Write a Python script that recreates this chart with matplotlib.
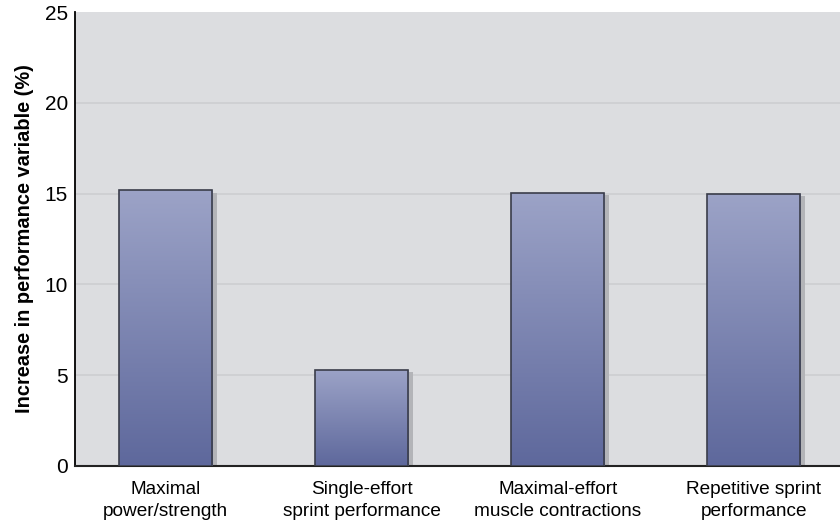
import numpy as np
import matplotlib.pyplot as plt
from matplotlib.colors import LinearSegmentedColormap
from matplotlib.patches import Rectangle

categories = ["Maximal\npower/strength", "Single-effort\nsprint performance",
              "Maximal-effort\nmuscle contractions", "Repetitive sprint\nperformance"]
values = [15.2, 5.3, 15.05, 15.0]
yticks = [0, 5, 10, 15, 20, 25]

plt.rcParams['font.family'] = ['Liberation Sans', 'DejaVu Sans']

fig = plt.figure(figsize=(8.4, 5.25), dpi=100)
ax = fig.add_axes([0.0893, 0.1124, 0.9107, 0.8646])
ax.set_facecolor('#dcdde0')

x = np.arange(len(categories))
width = 0.475

for y in yticks[1:-1]:
    ax.axhline(y, color='#cdced1', lw=1.2, zorder=1)

cmap = LinearSegmentedColormap.from_list('bar', ['#5e689c', '#9ca3c7'])
grad = np.linspace(0, 1, 256).reshape(-1, 1)

for xi, v in zip(x, values):
    # soft shadow on the right
    ax.add_patch(Rectangle((xi - width / 2 + 0.025, 0), width, v - 0.15,
                           facecolor='#b3b4b8', edgecolor='none', zorder=2))
    rect = Rectangle((xi - width / 2, 0), width, v, facecolor='none',
                     edgecolor='#3a3d4a', lw=1.2, zorder=4)
    ax.add_patch(rect)
    im = ax.imshow(grad, cmap=cmap, aspect='auto', origin='lower',
                   extent=(xi - width / 2, xi + width / 2, 0, v), zorder=3)
    im.set_clip_path(rect)

ax.set_xlim(-0.462, 3.44)
ax.set_ylim(0, 25)
ax.set_xticks(x)
ax.set_xticklabels(categories, fontsize=13.7, linespacing=1.4)
ax.set_yticks(yticks)
ax.tick_params(axis='both', length=0)
ax.tick_params(axis='x', pad=11)
ax.tick_params(axis='y', pad=5, labelsize=15)
ax.set_ylabel("Increase in performance variable (%)", fontsize=14.4,
              fontweight='bold', labelpad=8)

for s in ['top', 'right']:
    ax.spines[s].set_visible(False)
ax.spines['left'].set_linewidth(1.3)
ax.spines['bottom'].set_linewidth(1.5)
ax.spines['bottom'].set_color('#222222')

fig.savefig('out.png', dpi=100)
